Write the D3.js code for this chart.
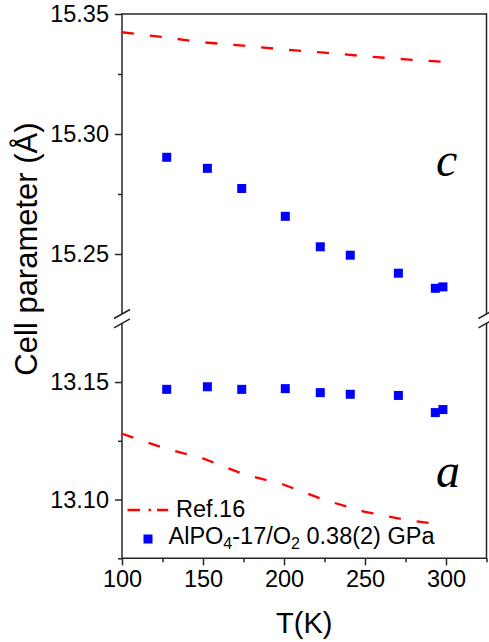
<!DOCTYPE html>
<html>
<head>
<meta charset="utf-8">
<script src="https://cdn.jsdelivr.net/npm/d3@7"></script>
<style>
  body { margin: 0; background: #fff; }
  svg { display: block; font-family: "Liberation Sans", Arial, sans-serif; }
</style>
</head>
<body>
<svg width="489" height="642"></svg>
<script>
// measured points (AlPO4-17/O2 0.38(2) GPa)
var tempK  = [127.6, 152.7, 173.9, 200.8, 222.4, 240.9, 270.6, 293.4, 298.1];
var cParam = [15.2903, 15.2857, 15.2773, 15.2657, 15.2530, 15.2495, 15.2420, 15.2357, 15.2363];
var aParam = [13.1469, 13.1480, 13.1469, 13.1472, 13.1455, 13.1448, 13.1443, 13.1370, 13.1383];

// Ref.16 curves
var refTempC = [100, 125, 150, 175, 200, 225, 250, 275, 300];
var refC     = [15.3424, 15.3404, 15.3382, 15.3368, 15.3352, 15.3339, 15.3324, 15.3311, 15.3300];
var refTempA = [100, 125, 150, 175, 200, 225, 250, 275, 290];
var refA     = [13.1280, 13.1221, 13.1175, 13.1108, 13.1063, 13.0998, 13.0948, 13.0914, 13.0900];

// ticks
var xMajor = [100, 150, 200, 250, 300];
var xMinor = [125, 175, 225, 275, 325];
var upperMajor = [15.25, 15.30, 15.35];
var upperMinor = [15.275, 15.325];
var lowerMajor = [13.10, 13.15];
var lowerMinor = [13.075, 13.125];

var legendLabels = ['Ref.16', 'AlPO4-17/O2 0.38(2) GPa'];

var plotLeft = 122, plotRight = 486.5, plotTop = 14, plotBottom = 558.3;
var upperBottom = 314, lowerTop = 323.3;
var axisColor = '#262626';

var svg = d3.select('svg');

var x = d3.scaleLinear().domain([100, 325]).range([plotLeft, plotRight]);
var yUp = d3.scaleLinear().domain([15.225, 15.35]).range([upperBottom, plotTop]);
var yLo = d3.scaleLinear().domain([13.075, 13.175]).range([plotBottom, lowerTop]);

// frame lines
var frame = svg.append('g').attr('stroke', axisColor).attr('stroke-width', 1.5).attr('fill', 'none');
frame.append('line').attr('x1', plotLeft).attr('x2', plotRight).attr('y1', plotTop).attr('y2', plotTop);
frame.append('line').attr('x1', plotLeft).attr('x2', plotRight).attr('y1', plotBottom).attr('y2', plotBottom);
[plotLeft, plotRight].forEach(function(xx) {
  frame.append('line').attr('x1', xx).attr('x2', xx).attr('y1', plotTop - 0.75).attr('y2', upperBottom);
  frame.append('line').attr('x1', xx).attr('x2', xx).attr('y1', lowerTop).attr('y2', plotBottom + 0.75);
  // break slashes
  [upperBottom, lowerTop].forEach(function(yy) {
    frame.append('line')
      .attr('x1', xx - 8).attr('y1', yy + 4.5)
      .attr('x2', xx + 8).attr('y2', yy - 4.5);
  });
});

// x axis
svg.append('g').attr('transform', 'translate(0,' + plotBottom + ')')
  .call(d3.axisBottom(x).tickValues(xMajor).tickSize(7).tickPadding(5).tickFormat(d3.format('d')));
svg.append('g').attr('transform', 'translate(0,' + plotBottom + ')')
  .call(d3.axisBottom(x).tickValues(xMinor).tickSize(4).tickFormat(''));

// y axes
svg.append('g').attr('transform', 'translate(' + plotLeft + ',0)')
  .call(d3.axisLeft(yUp).tickValues(upperMajor).tickSize(7).tickPadding(6).tickFormat(d3.format('.2f')));
svg.append('g').attr('transform', 'translate(' + plotLeft + ',0)')
  .call(d3.axisLeft(yUp).tickValues(upperMinor).tickSize(4).tickFormat(''));
svg.append('g').attr('transform', 'translate(' + plotLeft + ',0)')
  .call(d3.axisLeft(yLo).tickValues(lowerMajor).tickSize(7).tickPadding(6).tickFormat(d3.format('.2f')));
svg.append('g').attr('transform', 'translate(' + plotLeft + ',0)')
  .call(d3.axisLeft(yLo).tickValues(lowerMinor).tickSize(4).tickFormat(''));

svg.selectAll('.domain').remove();
svg.selectAll('.tick line').attr('stroke', axisColor).attr('stroke-width', 1.5);
svg.selectAll('.tick text').attr('fill', '#000').attr('font-size', 23.5).style('font-size', '23.5px')
  .attr('font-family', '"Liberation Sans", Arial, sans-serif');

// axis titles
svg.append('text')
  .attr('transform', 'translate(37,249) rotate(-90)')
  .attr('text-anchor', 'middle')
  .style('font-size', '31px')
  .attr('fill', '#000')
  .text('Cell parameter (\u00C5)');

svg.append('text')
  .attr('x', (plotLeft + plotRight) / 2).attr('y', 633)
  .attr('text-anchor', 'middle')
  .style('font-size', '29px')
  .attr('fill', '#000')
  .text('T(K)');

// Ref.16 lines
var lineUp = d3.line().x(function(d) { return x(d[0]); }).y(function(d) { return yUp(d[1]); });
var lineLo = d3.line().x(function(d) { return x(d[0]); }).y(function(d) { return yLo(d[1]); });

svg.append('path')
  .attr('d', lineUp(d3.zip(refTempC, refC)))
  .attr('fill', 'none').attr('stroke', '#ff0000').attr('stroke-width', 2.3)
  .attr('stroke-dasharray', '12,16');
svg.append('path')
  .attr('d', lineLo(d3.zip(refTempA, refA)))
  .attr('fill', 'none').attr('stroke', '#ff0000').attr('stroke-width', 2.3)
  .attr('stroke-dasharray', '12,16');

// squares
var sq = 9;
svg.append('g').selectAll('rect')
  .data(d3.zip(tempK, cParam))
  .enter().append('rect')
  .attr('x', function(d) { return x(d[0]) - sq / 2; })
  .attr('y', function(d) { return yUp(d[1]) - sq / 2; })
  .attr('width', sq).attr('height', sq)
  .attr('fill', '#0000ff');
svg.append('g').selectAll('rect')
  .data(d3.zip(tempK, aParam))
  .enter().append('rect')
  .attr('x', function(d) { return x(d[0]) - sq / 2; })
  .attr('y', function(d) { return yLo(d[1]) - sq / 2; })
  .attr('width', sq).attr('height', sq)
  .attr('fill', '#0000ff');

// c / a labels
svg.append('text').attr('x', 436).attr('y', 176)
  .style('font-family', '"Liberation Serif", "Times New Roman", serif')
  .style('font-style', 'italic').style('font-size', '48px').attr('fill', '#000')
  .text('c');
svg.append('text').attr('x', 436).attr('y', 486.5)
  .style('font-family', '"Liberation Serif", "Times New Roman", serif')
  .style('font-style', 'italic').style('font-size', '48px').attr('fill', '#000')
  .text('a');

// legend
var legend = svg.append('g');
legend.append('line')
  .attr('x1', 127.5).attr('x2', 168.3).attr('y1', 510).attr('y2', 510)
  .attr('stroke', '#ff0000').attr('stroke-width', 2.3)
  .attr('stroke-dasharray', '12.5,8.5,2.5,6');
legend.append('text').attr('x', 176).attr('y', 517)
  .style('font-size', '23.5px').attr('fill', '#000')
  .text(legendLabels[0]);
legend.append('rect')
  .attr('x', 148 - 4.5).attr('y', 539 - 4.5).attr('width', 9).attr('height', 9)
  .attr('fill', '#0000ff');
var t2 = legend.append('text').attr('x', 168.5).attr('y', 543.5)
  .style('font-size', '23.5px').attr('fill', '#000');
var parts = legendLabels[1].match(/^(AlPO)(4)(-17\/O)(2)(.*)$/);
t2.append('tspan').text(parts[1]);
t2.append('tspan').attr('dy', 5).style('font-size', '16px').text(parts[2]);
t2.append('tspan').attr('dy', -5).text(parts[3]);
t2.append('tspan').attr('dy', 5).style('font-size', '16px').text(parts[4]);
t2.append('tspan').attr('dy', -5).text(parts[5]);
</script>
</body>
</html>
